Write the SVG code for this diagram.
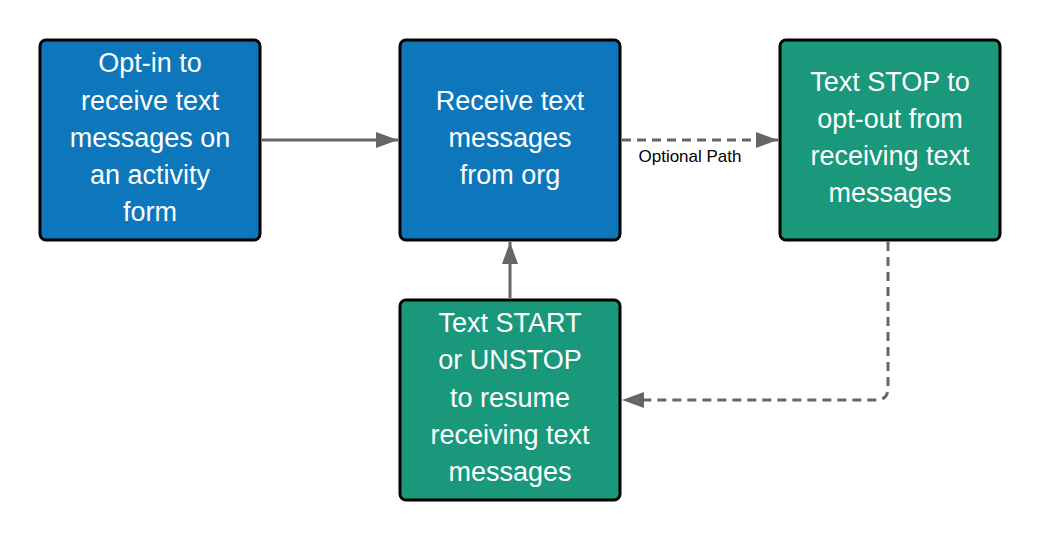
<svg xmlns="http://www.w3.org/2000/svg" width="1040" height="540" viewBox="0 0 1040 540">
<style>
.b{fill:#0e77bb;stroke:#000;stroke-width:3}
.g{fill:#1a987b;stroke:#000;stroke-width:3}
.t{fill:#fff;font-family:"Liberation Sans",Arial,sans-serif;font-size:27px;text-anchor:middle}
.c{fill:none;stroke:#666;stroke-width:3}
.d{stroke-dasharray:9,6}
.l{font-family:"Liberation Sans",Arial,sans-serif;font-size:17px;fill:#000;text-anchor:middle}
</style>
<defs><marker id="a" markerWidth="10" markerHeight="10" refX="9" refY="5" orient="auto" markerUnits="userSpaceOnUse" viewBox="0 0 10 10"><path d="M0,0 L10,5 L0,10 z" fill="#666"/></marker>
<marker id="m" markerWidth="22" markerHeight="16" refX="22" refY="8" orient="auto" markerUnits="userSpaceOnUse"><path d="M0,0 L22,8 L0,16 z" fill="#666"/></marker></defs>
<g id="connectors">
<path class="c" d="M262,140 H398" marker-end="url(#m)"/>
<path class="c d" d="M622,140 H778" marker-end="url(#m)"/>
<path class="c" d="M510,298 V242" marker-end="url(#m)"/>
<path class="c d" d="M888,242 V388 Q888,400 876,400 H622" marker-end="url(#m)"/>
<text class="l" x="690" y="162">Optional Path</text>
</g>
<g id="n1"><rect class="b" x="40" y="40" width="220" height="200" rx="6"/>
<text class="t"><tspan x="150" y="72">Opt-in to</tspan><tspan x="150" y="110">receive text</tspan><tspan x="150" y="147">messages on</tspan><tspan x="150" y="184">an activity</tspan><tspan x="150" y="221">form</tspan></text></g>
<g id="n2"><rect class="b" x="400" y="40" width="220" height="200" rx="6"/>
<text class="t"><tspan x="510" y="110">Receive text</tspan><tspan x="510" y="147">messages</tspan><tspan x="510" y="184">from org</tspan></text></g>
<g id="n3"><rect class="g" x="780" y="40" width="220" height="200" rx="6"/>
<text class="t"><tspan x="890" y="91">Text STOP to</tspan><tspan x="890" y="128">opt-out from</tspan><tspan x="890" y="165">receiving text</tspan><tspan x="890" y="202">messages</tspan></text></g>
<g id="n4"><rect class="g" x="400" y="300" width="220" height="200" rx="6"/>
<text class="t"><tspan x="510" y="332">Text START</tspan><tspan x="510" y="369">or UNSTOP</tspan><tspan x="510" y="407">to resume</tspan><tspan x="510" y="444">receiving text</tspan><tspan x="510" y="481">messages</tspan></text></g>
</svg>
